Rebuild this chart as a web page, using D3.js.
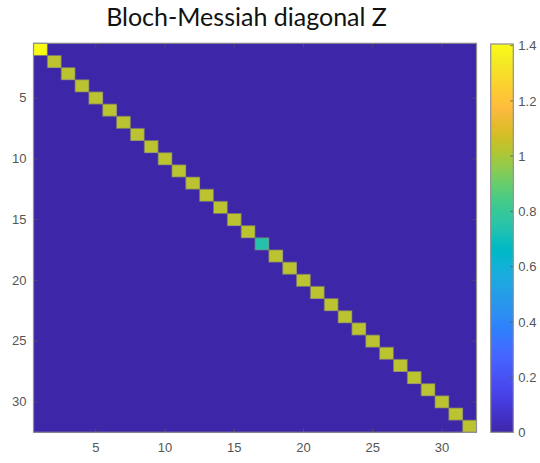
<!DOCTYPE html>
<html>
<head>
<meta charset="utf-8">
<script src="https://cdn.jsdelivr.net/npm/d3@7"></script>
<style>
  html, body { margin: 0; padding: 0; background: #ffffff; }
  svg { display: block; }
</style>
</head>
<body>
<svg id="chart" width="540" height="463"></svg>
<script>
// ---- data ----
const title = "Bloch-Messiah diagonal Z";
const matrixSize = 32;
const diagValues = [
  1.406, 1.03, 1.03, 1.03, 1.03, 1.03, 1.03, 1.03,
  1.03, 1.03, 1.03, 1.03, 1.03, 1.03, 1.03, 1.03,
  0.74, 1.03, 1.03, 1.03, 1.03, 1.03, 1.03, 1.03,
  1.03, 1.03, 1.03, 1.03, 1.03, 1.03, 1.03, 1.03
];
const offDiagValue = 0;
const axisTicks = [5, 10, 15, 20, 25, 30];
const colorbarTicks = [0, 0.2, 0.4, 0.6, 0.8, 1, 1.2, 1.4];
const colorMin = 0;
const colorMax = 1.406;

// MATLAB parula (64 entries)
const parula = [
[0.2422,0.1504,0.6603],[0.2504,0.1650,0.7076],[0.2578,0.1818,0.7511],[0.2647,0.1978,0.7952],
[0.2706,0.2147,0.8364],[0.2751,0.2342,0.8710],[0.2783,0.2559,0.8991],[0.2803,0.2782,0.9221],
[0.2813,0.3006,0.9414],[0.2810,0.3228,0.9579],[0.2795,0.3447,0.9717],[0.2760,0.3667,0.9829],
[0.2699,0.3892,0.9906],[0.2602,0.4123,0.9952],[0.2440,0.4358,0.9988],[0.2206,0.4603,0.9973],
[0.1963,0.4847,0.9892],[0.1834,0.5074,0.9798],[0.1786,0.5289,0.9682],[0.1764,0.5499,0.9520],
[0.1687,0.5703,0.9359],[0.1540,0.5902,0.9218],[0.1460,0.6091,0.9079],[0.1380,0.6276,0.8973],
[0.1248,0.6459,0.8883],[0.1113,0.6635,0.8763],[0.0952,0.6798,0.8598],[0.0689,0.6948,0.8394],
[0.0297,0.7082,0.8163],[0.0036,0.7203,0.7917],[0.0067,0.7312,0.7660],[0.0433,0.7411,0.7394],
[0.0964,0.7500,0.7120],[0.1408,0.7584,0.6842],[0.1717,0.7670,0.6554],[0.1938,0.7758,0.6251],
[0.2161,0.7843,0.5923],[0.2470,0.7918,0.5567],[0.2906,0.7973,0.5188],[0.3406,0.8008,0.4789],
[0.3909,0.8029,0.4354],[0.4456,0.8024,0.3909],[0.5044,0.7993,0.3480],[0.5616,0.7942,0.3045],
[0.6174,0.7876,0.2612],[0.6720,0.7793,0.2227],[0.7242,0.7698,0.1910],[0.7738,0.7598,0.1646],
[0.8203,0.7498,0.1535],[0.8634,0.7406,0.1596],[0.9035,0.7330,0.1774],[0.9393,0.7288,0.2100],
[0.9728,0.7298,0.2394],[0.9956,0.7434,0.2371],[0.9970,0.7659,0.2199],[0.9952,0.7893,0.2028],
[0.9892,0.8136,0.1885],[0.9786,0.8386,0.1766],[0.9676,0.8639,0.1643],[0.9610,0.8890,0.1537],
[0.9597,0.9135,0.1423],[0.9628,0.9373,0.1265],[0.9691,0.9606,0.1064],[0.9769,0.9839,0.0805]
].map(c => d3.rgb(c[0]*255, c[1]*255, c[2]*255).formatHex());

// ---- build matrix ----
const indices = d3.range(1, matrixSize + 1);
const cells = [];
indices.forEach(r => indices.forEach(c => {
  cells.push({ row: r, col: c, value: r === c ? diagValues[r - 1] : offDiagValue });
}));

// ---- layout ----
const plot = { left: 33.5, right: 476.5, top: 43.3, bottom: 432.3 };
const cbar = { left: 490.7, right: 513.3, top: 44, bottom: 432.3 };
const frameColor = "#8f8f8f";
const labelColor = "#555555";
const tickFont = "Liberation Sans, Arial, sans-serif";

const svg = d3.select("#chart");

const x = d3.scaleBand().domain(indices).range([plot.left, plot.right]).paddingInner(0).paddingOuter(0);
const y = d3.scaleBand().domain(indices).range([plot.top, plot.bottom]).paddingInner(0).paddingOuter(0);
const color = d3.scaleSequential(d3.piecewise(d3.interpolateRgb, parula)).domain([colorMin, colorMax]);

// cells: background (non-diagonal) first
svg.append("g").selectAll("rect")
  .data(cells.filter(d => d.row !== d.col))
  .join("rect")
  .attr("x", d => x(d.col))
  .attr("y", d => y(d.row))
  .attr("width", x.bandwidth() + 0.5)
  .attr("height", y.bandwidth() + 0.5)
  .attr("fill", d => color(d.value))
  .attr("shape-rendering", "crispEdges");

svg.append("g").selectAll("rect")
  .data(cells.filter(d => d.row === d.col))
  .join("rect")
  .attr("x", d => x(d.col))
  .attr("y", d => y(d.row))
  .attr("width", x.bandwidth())
  .attr("height", y.bandwidth())
  .attr("fill", d => color(d.value))
  .attr("stroke", "rgba(120,120,110,0.75)")
  .attr("stroke-width", 1);

// axes (inward ticks)
const tickLen = 4;
const xb = d3.axisBottom(x).tickValues(axisTicks).tickSize(0).tickPadding(10);
const yl = d3.axisLeft(y).tickValues(axisTicks).tickSize(0).tickPadding(7);

const gx = svg.append("g").attr("transform", `translate(0,${plot.bottom})`).call(xb);
const gy = svg.append("g").attr("transform", `translate(${plot.left},0)`).call(yl);
[gx, gy].forEach(g => {
  g.select(".domain").remove();
  g.selectAll("text").attr("fill", labelColor).attr("font-size", 13).attr("font-family", tickFont);
});

// inward tick marks on all four sides
const tg = svg.append("g").attr("stroke", "#555").attr("stroke-width", 0.8);
axisTicks.forEach(t => {
  const cx = x(t) + x.bandwidth() / 2;
  const cy = y(t) + y.bandwidth() / 2;
  tg.append("line").attr("x1", cx).attr("x2", cx).attr("y1", plot.bottom).attr("y2", plot.bottom - tickLen);
  tg.append("line").attr("x1", cx).attr("x2", cx).attr("y1", plot.top).attr("y2", plot.top + tickLen);
  tg.append("line").attr("y1", cy).attr("y2", cy).attr("x1", plot.left).attr("x2", plot.left + tickLen);
  tg.append("line").attr("y1", cy).attr("y2", cy).attr("x1", plot.right).attr("x2", plot.right - tickLen);
});

// frame
svg.append("rect")
  .attr("x", plot.left).attr("y", plot.top)
  .attr("width", plot.right - plot.left).attr("height", plot.bottom - plot.top)
  .attr("fill", "none").attr("stroke", frameColor).attr("stroke-width", 1.2);

// colorbar
const defs = svg.append("defs");
const grad = defs.append("linearGradient").attr("id", "cbgrad")
  .attr("x1", 0).attr("y1", 1).attr("x2", 0).attr("y2", 0);
d3.range(0, 101).forEach(i => {
  const t = i / 100;
  grad.append("stop").attr("offset", t).attr("stop-color", color(colorMin + t * (colorMax - colorMin)));
});
const cy = d3.scaleLinear().domain([colorMin, colorMax]).range([cbar.bottom, cbar.top]);
svg.append("rect")
  .attr("x", cbar.left).attr("y", cbar.top)
  .attr("width", cbar.right - cbar.left).attr("height", cbar.bottom - cbar.top)
  .attr("fill", "url(#cbgrad)");
const cbAxis = d3.axisRight(cy).tickValues(colorbarTicks).tickSize(0).tickPadding(5)
  .tickFormat(d3.format("~g"));
const gcb = svg.append("g").attr("transform", `translate(${cbar.right},0)`).call(cbAxis);
gcb.select(".domain").remove();
gcb.selectAll("text").attr("fill", labelColor).attr("font-size", 13).attr("font-family", tickFont);
const cbt = svg.append("g").attr("stroke", "#555").attr("stroke-width", 0.8);
colorbarTicks.forEach(t => {
  cbt.append("line").attr("x1", cbar.right).attr("x2", cbar.right - 3).attr("y1", cy(t)).attr("y2", cy(t));
});
svg.append("rect")
  .attr("x", cbar.left).attr("y", cbar.top)
  .attr("width", cbar.right - cbar.left).attr("height", cbar.bottom - cbar.top)
  .attr("fill", "none").attr("stroke", frameColor).attr("stroke-width", 1.2);

// title
const tt = svg.append("text")
  .attr("x", 246.5)
  .attr("y", 26)
  .attr("text-anchor", "middle")
  .attr("font-family", "Lato, 'Open Sans', sans-serif")
  .attr("font-size", 24)
  .attr("fill", "#111")
  .text(title);
const w = tt.node().getComputedTextLength();
if (w > 0) tt.attr("font-size", Math.min(25, 24 * 298 / w));
</script>
</body>
</html>
